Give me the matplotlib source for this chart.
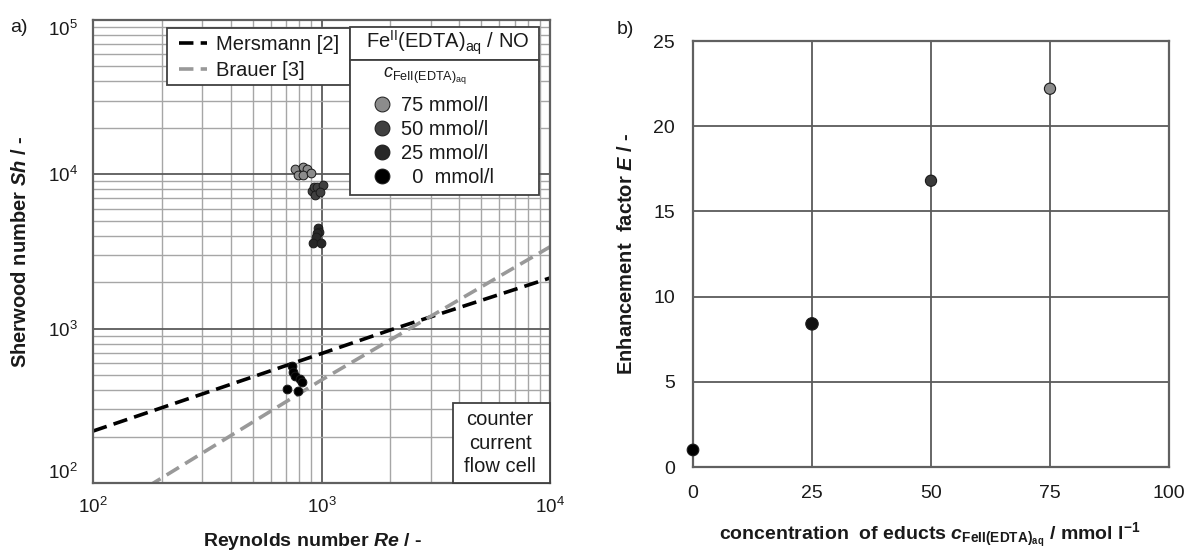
import matplotlib
matplotlib.use("Agg")
import matplotlib.pyplot as plt
from matplotlib.patches import Rectangle
from matplotlib.ticker import LogLocator, FixedLocator, NullFormatter

plt.rcParams['font.family'] = ['Liberation Sans', 'DejaVu Sans']
plt.rcParams['mathtext.fontset'] = 'custom'
plt.rcParams['mathtext.rm'] = 'Liberation Sans'
plt.rcParams['mathtext.it'] = 'Liberation Sans:italic'
plt.rcParams['mathtext.bf'] = 'Liberation Sans:bold'
plt.rcParams['mathtext.bfit'] = 'Liberation Sans:bold:italic'

# --- panel a) Sh over Re, one cluster per concentration ---
re_75 = [765, 832, 861, 791, 828, 897]
sh_75 = [10800, 11090, 10770, 9910, 9910, 10230]
re_50 = [906, 930, 953, 1012, 937, 984]
sh_50 = [7830, 8250, 8320, 8530, 7340, 7710]
re_25 = [968, 977, 953, 946, 914, 993]
sh_25 = [4470, 4250, 4150, 3910, 3610, 3580]
re_0 = [741, 754, 766, 805, 819, 708, 791]
sh_0 = [570, 526, 493, 469, 453, 405, 396]

# correlations
re_mersmann = [100, 1000, 2000, 10000]
sh_mersmann = [217, 690, 980, 2130]
re_brauer = [100, 184, 1000, 3000, 10000]
sh_brauer = [57, 100, 465, 1200, 3390]

conc_labels = ['75 mmol/l', '50 mmol/l', '25 mmol/l', '  0  mmol/l']
conc_colors = ['#8c8c8c', '#404040', '#282828', '#000000']

# --- panel b) enhancement factor ---
conc = [0, 25, 50, 75]
enh = [1.0, 8.4, 16.8, 22.2]
enh_colors = ['#000000', '#111111', '#3a3a3a', '#8c8c8c']
enh_sizes = [70, 80, 65, 65]

grid_dark = '#5a5a5a'
grid_light = '#a6a6a6'
txt = '#1a1a1a'

fig = plt.figure(figsize=(11.87, 5.5), dpi=100)
ax = fig.add_axes([93 / 1187, 67 / 550, 457 / 1187, 463 / 550])
ax2 = fig.add_axes([693 / 1187, 83 / 550, 476 / 1187, 426 / 550])

# ---------- panel a ----------
ax.set_xscale('log')
ax.set_yscale('log')
ax.set_xlim(100, 10000)
ax.set_ylim(100, 100000)
ax.xaxis.set_major_locator(LogLocator(base=10, numticks=10))
ax.yaxis.set_major_locator(LogLocator(base=10, numticks=10))
ax.xaxis.set_minor_locator(LogLocator(base=10, subs=range(2, 10), numticks=20))
ax.yaxis.set_minor_locator(LogLocator(base=10, subs=range(2, 10), numticks=20))
ax.xaxis.set_minor_formatter(NullFormatter())
ax.yaxis.set_minor_formatter(NullFormatter())
ax.grid(True, which='minor', color=grid_light, lw=1.0)
ax.grid(True, which='major', color=grid_dark, lw=1.3)
ax.set_axisbelow(True)
ax.tick_params(which='both', length=0, labelsize=13.5, colors=txt)
ax.tick_params(axis='x', pad=10)
ax.tick_params(axis='y', pad=11)
for s in ax.spines.values():
    s.set_color('#606060')
    s.set_linewidth(1.6)

l_mer, = ax.plot(re_mersmann, sh_mersmann, color='black', lw=2.6,
                 dashes=(4, 2), label='Mersmann [2]', zorder=2)
l_bra, = ax.plot(re_brauer, sh_brauer, color='#999999', lw=2.6,
                 dashes=(4, 2), label='Brauer [3]', zorder=2)

marker_handles = []
for xs, ys, c, lab in zip([re_75, re_50, re_25, re_0], [sh_75, sh_50, sh_25, sh_0],
                          conc_colors, conc_labels):
    h, = ax.plot(xs, ys, ls='none', marker='o', ms=6.3, mfc=c, mec='#1a1a1a',
                 mew=0.7, label=lab, zorder=3)
    marker_handles.append(h)

ax.set_xlabel(r'Reynolds number $\mathbfit{Re}$ / -', fontsize=14, fontweight='bold', color=txt)
ax.set_ylabel(r'Sherwood number $\mathbfit{Sh}$ / -', fontsize=14.5, fontweight='bold', color=txt)
ax.xaxis.set_label_coords(0.48, -0.104)
ax.yaxis.set_label_coords(-0.138, 0.5)

# boxes in the upper part of panel a
box_kw = dict(transform=ax.transAxes, facecolor='white', edgecolor='#404040',
              lw=1.3, zorder=5, clip_on=False)
ax.add_patch(Rectangle((0.162, 0.860), 0.400, 0.123, **box_kw))
ax.add_patch(Rectangle((0.562, 0.914), 0.414, 0.071, **box_kw))
ax.add_patch(Rectangle((0.562, 0.622), 0.414, 0.292, **box_kw))
ax.add_patch(Rectangle((0.788, 0.0), 0.212, 0.172, **box_kw))

leg1 = ax.legend(handles=[l_mer, l_bra], loc='upper left', bbox_to_anchor=(0.188, 0.967),
                 frameon=False, fontsize=14.5, handlelength=1.4, handletextpad=0.45,
                 labelspacing=0.32, borderpad=0, borderaxespad=0)
leg1.set_zorder(6)
for t in leg1.get_texts():
    t.set_color(txt)
ax.add_artist(leg1)

leg2 = ax.legend(handles=marker_handles, loc='upper left', bbox_to_anchor=(0.6105, 0.835),
                 frameon=False, fontsize=14.5, handlelength=1.0, handletextpad=0.45,
                 labelspacing=0.25, borderpad=0, borderaxespad=0, markerscale=1.7)
leg2.set_zorder(6)
for t in leg2.get_texts():
    t.set_color(txt)

ax.text(0.775, 0.950, r'Fe$^{\mathrm{II}}$(EDTA)$_{\mathrm{aq}}$ / NO', transform=ax.transAxes,
        ha='center', va='center', fontsize=14.5, color=txt, zorder=7)
ax.text(0.6346, 0.879, r'$\mathit{c}_{\mathrm{FeII(EDTA)_{aq}}}$', transform=ax.transAxes,
        ha='left', va='center', fontsize=13, color=txt, zorder=7)
ax.text(0.8906, 0.086, 'counter\ncurrent\nflow cell', transform=ax.transAxes,
        ha='center', va='center', fontsize=14.5, color=txt, linespacing=1.32, zorder=7)

# push outer y labels inward like the original
fig.canvas.draw()
for lab in ax.get_yticklabels():
    t = lab.get_text()
    if '{2}' in t:
        lab.set_va('bottom')
    if '{5}' in t:
        lab.set_va('top')

# ---------- panel b ----------
ax2.set_xlim(0, 100)
ax2.set_ylim(0, 25)
ax2.xaxis.set_major_locator(FixedLocator([0, 25, 50, 75, 100]))
ax2.yaxis.set_major_locator(FixedLocator([0, 5, 10, 15, 20, 25]))
ax2.grid(True, color=grid_dark, lw=1.3)
ax2.set_axisbelow(True)
ax2.tick_params(length=0, labelsize=14, colors=txt)
ax2.tick_params(axis='x', pad=13)
ax2.tick_params(axis='y', pad=13)
for s in ax2.spines.values():
    s.set_color('#606060')
    s.set_linewidth(1.6)

ax2.scatter(conc, enh, s=enh_sizes, c=enh_colors, edgecolors='#1a1a1a',
            linewidths=0.8, zorder=3, clip_on=False)

ax2.set_xlabel(r'concentration  of educts $\mathbfit{c}_{\mathbf{FeII(EDTA)_{aq}}}$ / mmol l$^{\mathbf{-1}}$',
               fontsize=14, fontweight='bold', color=txt)
ax2.set_ylabel(r'Enhancement  factor $\mathbfit{E}$ / -', fontsize=14.5, fontweight='bold', color=txt)
ax2.xaxis.set_label_coords(0.498, -0.126)
ax2.yaxis.set_label_coords(-0.12, 0.5)

fig.text(10 / 1187, 1 - 28 / 550, 'a)', fontsize=14, color=txt, va='center', ha='left')
fig.text(617 / 1187, 1 - 29 / 550, 'b)', fontsize=14, color=txt, va='center', ha='left')

fig.savefig('out.png', dpi=100)
